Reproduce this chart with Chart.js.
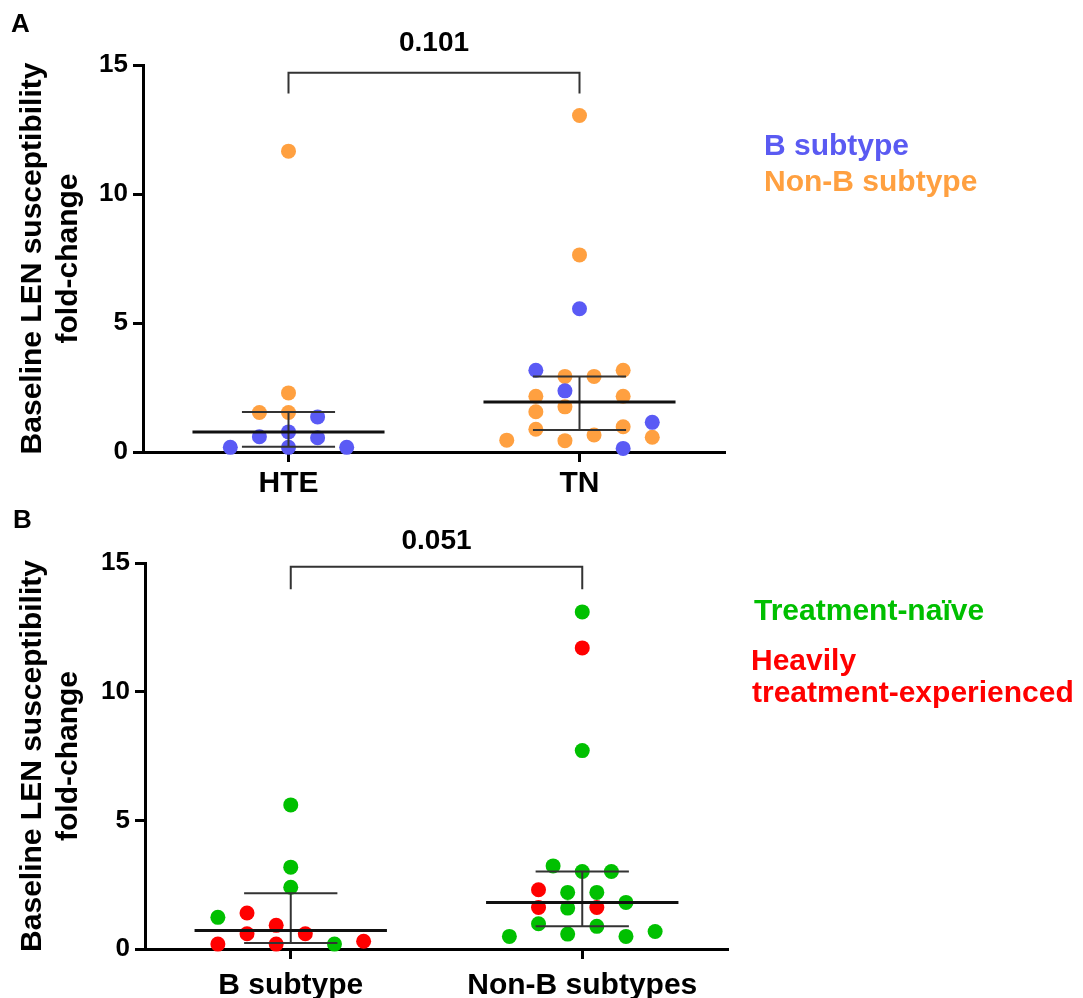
<!DOCTYPE html>
<html>
<head>
<meta charset="utf-8">
<script src="https://cdn.jsdelivr.net/npm/chart.js@4.4.1/dist/chart.umd.min.js"></script>
<style>
  body { margin: 0; background: #fff; width: 1083px; height: 998px; position: relative; overflow: hidden;
         font-family: "Liberation Sans", Arial, sans-serif; }
  canvas { position: absolute; left: 0; }
  #chartA { top: 0; }
  #chartB { top: 499px; }
  .txt { position: absolute; font-weight: bold; white-space: nowrap; line-height: 1; }
  .big { font-size: 30px; }
</style>
</head>
<body>
<canvas id="chartA" width="1083" height="499"></canvas>
<canvas id="chartB" width="1083" height="499"></canvas>

<div class="txt" style="left:11px;top:10px;font-size:26px">A</div>
<div class="txt" style="left:13px;top:506px;font-size:26px">B</div>

<div class="txt big" style="left:764px;top:130px;color:#5a5af2">B subtype</div>
<div class="txt big" style="left:764px;top:166px;color:#ffa040">Non-B subtype</div>

<div class="txt big" style="left:754px;top:595px;color:#00bf00">Treatment-naïve</div>
<div class="txt big" style="left:751px;top:645px;color:#ff0000">Heavily</div>
<div class="txt big" style="left:752px;top:677px;color:#ff0000">treatment-experienced</div>

<script>
const family = '"Liberation Sans", Arial, sans-serif';

const yTicks = [0, 5, 10, 15];
const yTitle = ['Baseline LEN susceptibility', 'fold-change'];

// panel A -- each point is [jitter offset from category, fold-change]
const categoriesA = ['HTE', 'TN'];
const hteBSubtype = [[-0.2, 0.18], [0, 0.18], [0.2, 0.18], [-0.1, 0.59], [0, 0.78], [0.1, 0.55], [0.1, 1.36]];
const hteNonB = [[-0.1, 1.53], [0, 1.53], [0, 2.29], [0, 11.66]];
const tnBSubtype = [[0, 5.55], [-0.15, 3.17], [-0.05, 2.37], [0.25, 1.15], [0.15, 0.14]];
const tnNonB = [[0, 13.04], [0, 7.64], [-0.05, 2.93], [0.05, 2.93], [0.15, 3.17], [-0.15, 2.16], [0.15, 2.16],
  [-0.15, 1.56], [-0.05, 1.75], [-0.15, 0.88], [0.15, 0.98], [-0.25, 0.46], [-0.05, 0.44], [0.05, 0.66], [0.25, 0.57]];
const medianA = [0.78, 1.94];
const q1A = [0.2, 0.85];
const q3A = [1.55, 2.93];
const bracketA = [13.9, 14.7];
const pValueA = '0.101';

// panel B
const categoriesB = ['B subtype', 'Non-B subtypes'];
const bTreatmentNaive = [[0, 5.6], [0, 3.18], [0, 2.4], [-0.25, 1.23], [0.15, 0.19]];
const bHeavilyTreated = [[-0.15, 1.4], [-0.05, 0.92], [-0.15, 0.59], [0.05, 0.59], [-0.25, 0.19], [-0.05, 0.19], [0.25, 0.3]];
const nonBTreatmentNaive = [[0, 13.1], [0, 7.71], [-0.1, 3.23], [0, 3.01], [0.1, 3.01], [-0.05, 2.2], [0.05, 2.2],
  [-0.05, 1.59], [0.15, 1.81], [-0.15, 0.98], [0.05, 0.88], [-0.25, 0.49], [-0.05, 0.58], [0.15, 0.49], [0.25, 0.68]];
const nonBHeavilyTreated = [[0, 11.7], [-0.15, 2.3], [-0.15, 1.61], [0.05, 1.61]];
const medianB = [0.72, 1.81];
const q1B = [0.23, 0.88];
const q3B = [2.17, 3.01];
const bracketB = [13.98, 14.85];
const pValueB = '0.051';

const BLUE = '#5a5af5';
const ORANGE = '#ffa040';
const GREEN = '#00c000';
const RED = '#ff0000';

function place(center, list) {
  return list.map(([dx, v]) => ({ x: center + dx, y: v }));
}

function dots(data, color) {
  return {
    data,
    backgroundColor: color,
    borderWidth: 0,
    pointRadius: 7.5,
    pointHoverRadius: 7.5,
    clip: false,
    order: 1
  };
}

function seg(x1, y1, x2, y2, width, color) {
  return {
    data: [{ x: x1, y: y1 }, { x: x2, y: y2 }],
    showLine: true,
    borderColor: color,
    borderWidth: width,
    pointRadius: 0,
    clip: false,
    order: 0
  };
}

function summary(median, q1, q3) {
  const sets = [];
  [1, 2].forEach((c, i) => {
    sets.push(seg(c - 0.33, median[i], c + 0.33, median[i], 3, '#111'));
    sets.push(seg(c - 0.16, q3[i], c + 0.16, q3[i], 2, '#333'));
    sets.push(seg(c - 0.16, q1[i], c + 0.16, q1[i], 2, '#333'));
    sets.push(seg(c, q1[i], c, q3[i], 2, '#333'));
  });
  return sets;
}

function bracket(b) {
  return {
    data: [{ x: 1, y: b[0] }, { x: 1, y: b[1] }, { x: 2, y: b[1] }, { x: 2, y: b[0] }],
    showLine: true,
    borderColor: '#333',
    borderWidth: 2,
    pointRadius: 0,
    clip: false,
    order: 0
  };
}

const pValuePlugin = {
  id: 'pValue',
  afterDatasetsDraw(chart, args, opts) {
    const { ctx } = chart;
    const { x, y } = chart.scales;
    ctx.save();
    ctx.font = `bold 28px ${family}`;
    ctx.fillStyle = '#000';
    ctx.textAlign = 'center';
    ctx.textBaseline = 'middle';
    ctx.fillText(opts.text, x.getPixelForValue(1.5), y.getPixelForValue(opts.y) - opts.gap);
    ctx.restore();
  }
};

function makeChart(id, box, categories, datasets, pText, pY, pGap) {
  const canvas = document.getElementById(id);
  // eslint-disable-next-line no-new
  new Chart(canvas, {
    type: 'scatter',
    data: { datasets },
    plugins: [pValuePlugin],
    options: {
      responsive: false,
      animation: false,
      events: [],
      layout: { padding: { left: 0, top: box.top, right: canvas.width - box.right, bottom: 0 } },
      plugins: {
        legend: { display: false },
        tooltip: { enabled: false },
        pValue: { text: pText, y: pY, gap: pGap }
      },
      scales: {
        x: {
          type: 'linear',
          min: 0.5,
          max: 2.5,
          afterBuildTicks: (s) => { s.ticks = [{ value: 1 }, { value: 2 }]; },
          afterFit: (s) => { s.height = canvas.height - box.bottom; },
          border: { display: true, color: '#000', width: 3 },
          grid: { drawOnChartArea: false, drawTicks: true, tickLength: 10, tickColor: '#000', tickWidth: 3, color: '#000' },
          ticks: {
            autoSkip: false,
            maxRotation: 0,
            padding: box.xPad,
            color: '#000',
            font: { family, size: 30, weight: 'bold' },
            callback: (v) => categories[v - 1]
          }
        },
        y: {
          min: 0,
          max: 15,
          afterBuildTicks: (s) => { s.ticks = yTicks.map((v) => ({ value: v })); },
          afterFit: (s) => { s.width = box.left; },
          border: { display: true, color: '#000', width: 3 },
          grid: { drawOnChartArea: false, drawTicks: true, tickLength: 10, tickColor: '#000', tickWidth: 3, color: '#000' },
          ticks: { padding: 5, color: '#000', font: { family, size: 26, weight: 'bold' } },
          title: {
            display: true,
            text: yTitle,
            color: '#000',
            font: { family, size: 30, weight: 'bold', lineHeight: 1.2 },
            padding: { top: 15, bottom: 0 }
          }
        }
      }
    }
  });
}

makeChart('chartA', { left: 143, top: 65, right: 725, bottom: 452, xPad: 4 }, categoriesA, [
  ...summary(medianA, q1A, q3A),
  bracket(bracketA),
  dots(place(1, hteBSubtype), BLUE),
  dots(place(1, hteNonB), ORANGE),
  dots(place(2, tnBSubtype), BLUE),
  dots(place(2, tnNonB), ORANGE)
], pValueA, bracketA[1], 29);

makeChart('chartB', { left: 145, top: 64, right: 728, bottom: 450, xPad: 9 }, categoriesB, [
  ...summary(medianB, q1B, q3B),
  bracket(bracketB),
  dots(place(1, bTreatmentNaive), GREEN),
  dots(place(1, bHeavilyTreated), RED),
  dots(place(2, nonBTreatmentNaive), GREEN),
  dots(place(2, nonBHeavilyTreated), RED)
], pValueB, bracketB[1], 26);
</script>
</body>
</html>
